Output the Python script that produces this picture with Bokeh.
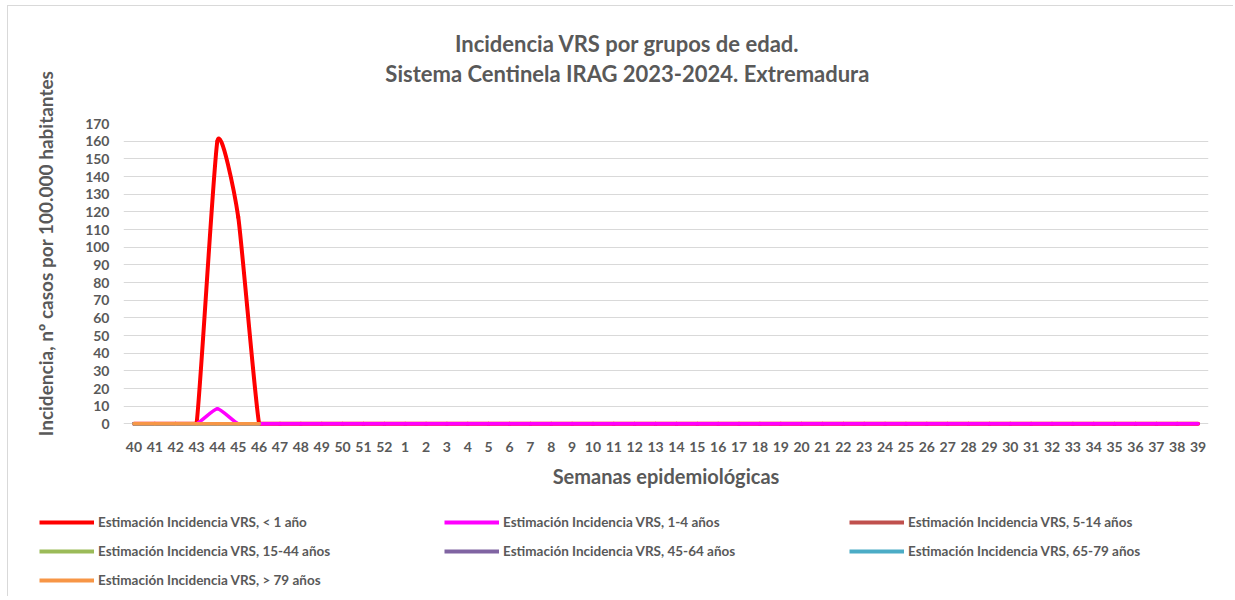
import numpy as np
from bokeh.plotting import figure
from bokeh.layouts import column, row
from bokeh.models import ColumnDataSource, Range1d, FixedTicker, Legend, LegendItem
from bokeh.core.properties import value
from bokeh.embed import file_html
from bokeh.resources import INLINE

# ---- data ----
weeks = ["40", "41", "42", "43", "44", "45", "46", "47", "48", "49", "50", "51", "52",
         "1", "2", "3", "4", "5", "6", "7", "8", "9", "10", "11", "12", "13", "14", "15",
         "16", "17", "18", "19", "20", "21", "22", "23", "24", "25", "26", "27", "28", "29",
         "30", "31", "32", "33", "34", "35", "36", "37", "38", "39"]
inc_lt1 = [0, 0, 0, 0, 160, 117, 0, 0, 0, 0, 0, 0, 0,
           0, 0, 0, 0, 0, 0, 0, 0, 0, 0, 0, 0, 0, 0, 0, 0, 0, 0, 0, 0,
           0, 0, 0, 0, 0, 0, 0, 0, 0, 0, 0, 0, 0, 0, 0, 0, 0, 0, 0]
inc_1_4 = [0, 0, 0, 0, 8.5, 0, 0, 0, 0, 0, 0, 0, 0,
           0, 0, 0, 0, 0, 0, 0, 0, 0, 0, 0, 0, 0, 0, 0, 0, 0, 0, 0, 0,
           0, 0, 0, 0, 0, 0, 0, 0, 0, 0, 0, 0, 0, 0, 0, 0, 0, 0, 0]
inc_5_14 = [0, 0, 0, 0, 0, 0, 0]
inc_15_44 = [0, 0, 0, 0, 0, 0, 0]
inc_45_64 = [0, 0, 0, 0, 0, 0, 0]
inc_65_79 = [0, 0, 0, 0, 0, 0, 0]
inc_gt79 = [0, 0, 0, 0, 0, 0, 0]

series_names = ["Estimación Incidencia VRS, < 1 año",
                "Estimación Incidencia VRS, 1-4 años",
                "Estimación Incidencia VRS, 5-14 años",
                "Estimación Incidencia VRS, 15-44 años",
                "Estimación Incidencia VRS, 45-64 años",
                "Estimación Incidencia VRS, 65-79 años",
                "Estimación Incidencia VRS, > 79 años"]
series_values = [inc_lt1, inc_1_4, inc_5_14, inc_15_44, inc_45_64, inc_65_79, inc_gt79]
series_colors = ["#FF0000", "#FF00FF", "#C0504D", "#9BBB59", "#8064A2", "#4BACC6", "#F79646"]
series_widths = [4, 3.5, 3.5, 3.5, 3.5, 3.5, 3.5]

y_ticks = list(range(0, 171, 10))

title_lines = ["Incidencia VRS por grupos de edad.",
               "Sistema Centinela IRAG 2023-2024. Extremadura"]
y_label = "Incidencia, nº casos por 100.000 habitantes"
x_label = "Semanas epidemiológicas"

FONT = "Lato"
GREY = "#595959"
W = 1225
YLW = 60


def smooth_source(vals, k=1.0 / 12.0):
    """Bezier segments (Excel-like smoothed line) through the data points."""
    y = np.asarray(vals, dtype=float)
    x = np.arange(len(y), dtype=float)
    n = len(y)
    i = np.arange(n - 1)
    im1 = np.maximum(i - 1, 0)
    ip2 = np.minimum(i + 2, n - 1)
    x1, y1 = x[i], y[i]
    x2, y2 = x[i + 1], y[i + 1]
    lo = np.minimum(y1, y2)
    cy0 = np.maximum(y1 + (y2 - y[im1]) * k, lo)
    cy1 = np.maximum(y2 - (y[ip2] - y1) * k, lo)
    return ColumnDataSource(dict(
        x0=x1, y0=y1, x1=x2, y1=y2,
        cx0=x1 + (x2 - x[im1]) * k, cy0=cy0,
        cx1=x2 - (x[ip2] - x1) * k, cy1=cy1))


def blank(width, height, xr, yr):
    f = figure(width=width, height=height, output_backend="svg", toolbar_location=None,
               x_range=Range1d(*xr), y_range=Range1d(*yr), min_border=0)
    f.axis.visible = False
    f.grid.grid_line_color = None
    f.outline_line_color = None
    return f


# ---- title ----
t = blank(W - YLW, 100, (0, W - YLW), (100, 0))
t.text(x=[541, 541], y=[37, 67], text=title_lines, text_align="center",
       text_baseline="middle", text_font=value(FONT), text_font_style="bold",
       text_font_size="22px", text_color=GREY)

# ---- y label ----
yl = blank(YLW, 490, (0, YLW), (490, 0))
yl.text(x=[37], y=[247], text=[y_label], angle=np.pi / 2, text_align="center",
        text_baseline="middle", text_font=value(FONT), text_font_style="bold",
        text_font_size="19px", text_color=GREY)

# ---- main chart ----
p = figure(width=W - YLW, height=390, output_backend="svg", toolbar_location=None,
           x_range=Range1d(-0.5, len(weeks) - 0.5), y_range=Range1d(-1.5, 170),
           min_border_left=55, min_border_right=25, min_border_top=17,
           min_border_bottom=70)
p.outline_line_color = None

p.xaxis.ticker = FixedTicker(ticks=list(range(len(weeks))))
p.xaxis.major_label_overrides = {i: w for i, w in enumerate(weeks)}
p.yaxis.ticker = FixedTicker(ticks=y_ticks)
for ax in (p.xaxis[0], p.yaxis[0]):
    ax.major_tick_line_color = None
    ax.minor_tick_line_color = None
    ax.axis_line_color = None
    ax.major_label_text_font = FONT
    ax.major_label_text_font_style = "bold"
    ax.major_label_text_font_size = "14px"
    ax.major_label_text_color = GREY
p.yaxis.major_label_standoff = 8
p.xaxis.major_label_standoff = 9
p.xaxis.axis_label = x_label
p.xaxis.axis_label_text_font = FONT
p.xaxis.axis_label_text_font_style = "bold"
p.xaxis.axis_label_text_font_size = "20px"
p.xaxis.axis_label_text_color = GREY
p.xaxis.axis_label_standoff = 9

p.xgrid.grid_line_color = None
p.ygrid.ticker = FixedTicker(ticks=y_ticks)
p.ygrid.grid_line_color = "#D9D9D9"
p.ygrid.grid_line_width = 1

for vals, col, lw in zip(series_values, series_colors, series_widths):
    p.bezier(x0="x0", y0="y0", x1="x1", y1="y1", cx0="cx0", cy0="cy0",
             cx1="cx1", cy1="cy1", source=smooth_source(vals), line_color=col,
             line_width=lw, line_cap="round", line_join="round")

# ---- legend ----
lg = blank(W, 100, (0, 1), (0, 1))
items = []
for name, col in zip(series_names, series_colors):
    r = lg.line(x=np.array([np.nan]), y=np.array([np.nan]), line_color=col, line_width=4)
    items.append(LegendItem(label=name, renderers=[r]))
legend = Legend(items=items, ncols=3, orientation="horizontal", location=(31, 6),
                label_text_font=FONT, label_text_font_style="bold",
                label_text_font_size="13.5px", label_text_color=GREY,
                glyph_width=55, glyph_height=20, label_height=20,
                label_width=337, label_standoff=4, spacing=9,
                padding=0, margin=0, border_line_color=None,
                background_fill_alpha=0)
lg.add_layout(legend, "center")

layout = column(row(yl, column(t, p)), lg)
layout.styles = {"border-top": "1px solid #D9D9D9", "border-left": "1px solid #D9D9D9",
                 "margin-left": "7px", "margin-top": "5px"}

open("out.html", "w").write(file_html(layout, INLINE))
